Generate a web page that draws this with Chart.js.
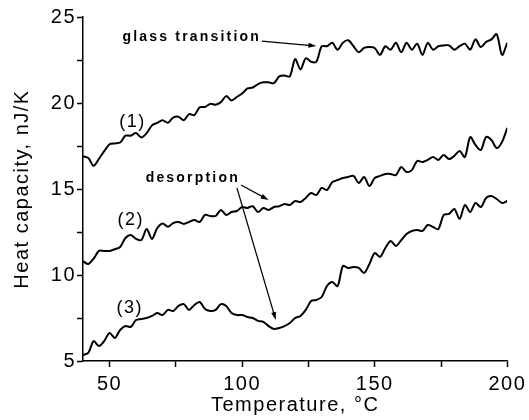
<!DOCTYPE html>
<html>
<head>
<meta charset="utf-8">
<title>Heat capacity vs temperature</title>
<script src="https://cdn.jsdelivr.net/npm/chart.js@4.4.1/dist/chart.umd.min.js"></script>
<style>
  html, body { margin: 0; padding: 0; background: #fff; }
  #wrap { width: 529px; height: 420px; }
</style>
</head>
<body>
<div id="wrap"><canvas id="cp-chart" width="529" height="420"></canvas></div>
<script>
// temperature grid, °C
const temps = [
  40, 42, 44, 46, 48, 50, 52, 54, 56, 58,
  60, 62, 64, 66, 68, 70, 72, 74, 76, 78,
  80, 82, 84, 86, 88, 90, 92, 94, 96, 98,
  100, 102, 104, 106, 108, 110, 112, 114, 116, 118,
  120, 122, 124, 126, 128, 130, 132, 134, 136, 138,
  140, 142, 144, 146, 148, 150, 152, 154, 156, 158,
  160, 162, 164, 166, 168, 170, 172, 174, 176, 178,
  180, 182, 184, 186, 188, 190, 192, 194, 196, 198,
  200
];

// heat capacity, nJ/K
const cp1 = [
  16.9, 16.8, 16.35, 16.75, 17.2, 17.6, 17.65, 17.7, 18.1, 18.1,
  18.25, 18.0, 18.25, 18.7, 18.85, 19.0, 18.85, 19.15, 19.2, 19.0,
  19.35, 19.3, 19.75, 19.77, 19.95, 19.9, 20.05, 20.4, 20.15, 20.35,
  20.55, 20.85, 20.9, 21.1, 21.2, 21.2, 21.15, 21.55, 21.6, 21.55,
  22.55, 21.95, 22.6, 22.4, 22.4, 23.3, 23.3, 23.5, 23.1, 23.5,
  23.65, 23.3, 22.95, 23.2, 23.25, 23.2, 22.8, 23.3, 23.1, 23.5,
  22.95, 23.5, 23.1, 23.45, 22.8, 23.5, 23.1, 23.3, 23.35, 23.35,
  23.1, 23.3, 23.45, 23.1, 23.7, 23.25, 23.55, 23.7, 24.0, 22.8,
  23.5
];
const cp2 = [
  10.8, 10.64, 10.95, 11.4, 11.4, 11.4, 11.5, 11.63, 12.15, 12.33,
  12.1, 12.03, 12.67, 12.1, 12.73, 13.0, 12.8, 13.02, 13.08, 12.97,
  13.08, 13.2, 13.08, 13.49, 13.43, 13.43, 13.78, 13.49, 13.66, 13.72,
  13.95, 13.9, 14.0, 13.66, 13.9, 13.78, 13.95, 14.0, 14.13, 14.07,
  14.3, 14.24, 14.48, 14.77, 14.65, 15.06, 14.94, 15.4, 15.52, 15.64,
  15.7, 15.76, 15.35, 15.7, 15.17, 15.64, 15.76, 15.87, 15.87, 15.81,
  16.28, 15.99, 16.1, 16.63, 16.57, 16.69, 16.86, 16.69, 16.98, 16.74,
  16.92, 17.21, 16.86, 18.02, 17.56, 17.27, 18.02, 17.85, 17.38, 17.73,
  18.55
];
const cp3 = [
  5.35, 5.47, 6.16, 5.87, 6.16, 6.63, 6.34, 6.8, 7.03, 6.98,
  7.38, 7.44, 7.5, 7.62, 7.79, 7.67, 7.97, 7.91, 8.2, 8.31,
  7.97, 8.26, 8.43, 8.02, 7.91, 7.97, 8.31, 8.2, 7.79, 7.67,
  7.67, 7.56, 7.5, 7.33, 7.27, 7.03, 6.86, 6.92, 7.03, 7.21,
  7.5, 7.62, 7.97, 8.49, 8.55, 8.72, 9.36, 9.59, 9.36, 10.52,
  10.41, 10.47, 10.41, 10.12, 10.64, 11.28, 11.05, 11.57, 11.98, 11.69,
  12.03, 12.38, 12.56, 12.62, 12.56, 12.91, 12.79, 12.67, 13.49, 13.55,
  13.84, 13.26, 14.07, 13.66, 14.19, 13.95, 14.48, 14.59, 14.42, 14.19,
  14.3
];

const xTicks = [50, 75, 100, 125, 150, 175, 200];
const yTicks = [5, 7.5, 10, 12.5, 15, 17.5, 20, 22.5, 25];

const FONT = '"Liberation Sans", Arial, sans-serif';

// curve numbers, callout texts and arrows, placed in data units
const curveNames = [
  { text: '(1)', t: 58.7, v: 18.9 },
  { text: '(2)', t: 58.0, v: 13.2 },
  { text: '(3)', t: 57.6, v: 8.1 }
];
const callouts = [
  { text: 'glass transition', t: 81.0, v: 23.84 },
  { text: 'desorption', t: 81.4, v: 15.64 }
];
const arrows = [
  [107.4, 23.6, 128.0, 23.31],
  [99.6, 15.23, 110.0, 14.36],
  [98.05, 15.06, 112.7, 7.38]
];

function series(values) {
  return {
    data: temps.map((t, i) => ({ x: t, y: values[i] })),
    borderColor: '#000',
    borderWidth: 2,
    pointRadius: 0,
    tension: 0.3,
    fill: false
  };
}

// the printed labels are a bit spread out
const spacing = {
  id: 'spacing',
  beforeDraw(chart) { chart.ctx.letterSpacing = '1.5px'; }
};

const annotations = {
  id: 'annotations',
  afterDatasetsDraw(chart) {
    const { ctx, scales: { x, y } } = chart;
    ctx.save();
    ctx.fillStyle = '#000';
    ctx.strokeStyle = '#000';
    ctx.textAlign = 'center';
    ctx.textBaseline = 'middle';

    ctx.font = '18px ' + FONT;
    ctx.letterSpacing = '1.5px';
    curveNames.forEach(n => ctx.fillText(n.text, x.getPixelForValue(n.t), y.getPixelForValue(n.v)));

    ctx.font = 'bold 14px ' + FONT;
    ctx.letterSpacing = '2.2px';
    callouts.forEach(n => ctx.fillText(n.text, x.getPixelForValue(n.t), y.getPixelForValue(n.v)));

    ctx.lineWidth = 1.2;
    arrows.forEach(a => {
      const x0 = x.getPixelForValue(a[0]), y0 = y.getPixelForValue(a[1]);
      const x1 = x.getPixelForValue(a[2]), y1 = y.getPixelForValue(a[3]);
      const ang = Math.atan2(y1 - y0, x1 - x0);
      ctx.beginPath();
      ctx.moveTo(x0, y0);
      ctx.lineTo(x1 - 5 * Math.cos(ang), y1 - 5 * Math.sin(ang));
      ctx.stroke();
      ctx.beginPath();
      ctx.moveTo(x1, y1);
      ctx.lineTo(x1 - 8 * Math.cos(ang) + 2.5 * Math.sin(ang), y1 - 8 * Math.sin(ang) - 2.5 * Math.cos(ang));
      ctx.lineTo(x1 - 8 * Math.cos(ang) - 2.5 * Math.sin(ang), y1 - 8 * Math.sin(ang) + 2.5 * Math.cos(ang));
      ctx.closePath();
      ctx.fill();
    });
    ctx.restore();
  }
};

const axisGrid = {
  drawOnChartArea: false,
  drawTicks: true,
  tickLength: 6,
  tickWidth: 1.5,
  tickColor: '#000'
};

new Chart(document.getElementById('cp-chart'), {
  type: 'line',
  data: { datasets: [series(cp1), series(cp2), series(cp3)] },
  options: {
    responsive: false,
    animation: false,
    layout: { padding: { top: 17, right: 18, left: 0, bottom: 0 } },
    plugins: { legend: { display: false }, tooltip: { enabled: false } },
    scales: {
      x: {
        type: 'linear',
        min: 40,
        max: 200,
        afterBuildTicks: s => { s.ticks = xTicks.map(v => ({ value: v })); },
        afterFit: s => { s.height = 59; },
        ticks: {
          autoSkip: false,
          maxRotation: 0,
          padding: 5,
          color: '#000',
          font: { family: FONT, size: 20 },
          callback: v => (v % 50 === 0 ? String(v) : '')
        },
        grid: axisGrid,
        border: { display: true, color: '#000', width: 1.5 },
        title: {
          display: true,
          text: 'Temperature, °C',
          color: '#000',
          font: { family: FONT, size: 20 },
          padding: { top: 0, bottom: 3 }
        }
      },
      y: {
        min: 5,
        max: 25,
        afterBuildTicks: s => { s.ticks = yTicks.map(v => ({ value: v })); },
        afterFit: s => { s.width = 83; },
        ticks: {
          padding: 1,
          color: '#000',
          font: { family: FONT, size: 20 },
          callback: v => (v % 5 === 0 ? String(v) : '')
        },
        grid: axisGrid,
        border: { display: true, color: '#000', width: 1.5 },
        title: {
          display: true,
          text: 'Heat capacity, nJ/K',
          color: '#000',
          font: { family: FONT, size: 20 },
          padding: { top: 10, bottom: 0 }
        }
      }
    }
  },
  plugins: [spacing, annotations]
});
</script>
</body>
</html>
